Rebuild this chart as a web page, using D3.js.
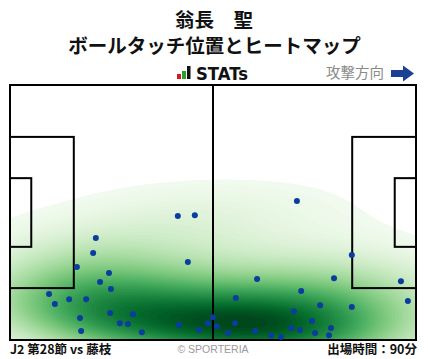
<!DOCTYPE html>
<html><head><meta charset="utf-8">
<script src="https://cdn.jsdelivr.net/npm/d3@7"></script>
<style>
body{margin:0;background:#fff;}
svg{display:block;font-family:"Noto Sans CJK JP","Noto Sans",sans-serif;}
</style>
</head><body>
<svg id="chart" width="428" height="359"></svg>
<script>
// Ball touch positions (metres on a 105 x 68 pitch, attacking to the right)
const touchX = [22.2,21.5,17.3,25.6,23.3,26.1,10.1,15.3,19.7,11.6,25.9,31.8,18.1,28.4,30.5,18.4,34.1,
                43.4,47.8,46.0,43.7,48.9,51.2,52.5,53.5,56.4,58.2,58.4,63.9,74.2,75.3,80.2,73.4,78.1,
                72.7,75.0,63.4,67.5,70.1,78.9,82.5,83.0,83.8,88.4,88.4,101.1,102.9];
const touchY = [40.8,44.8,48.5,50.1,52.5,54.4,55.7,57.1,57.1,58.4,60.8,61.1,62.1,63.5,63.7,65.6,65.9,
                34.9,34.7,47.2,64.0,65.3,63.5,61.9,64.3,66.1,63.5,56.8,51.7,30.9,54.9,58.7,60.3,62.9,
                64.8,65.3,65.6,66.7,67.2,66.1,66.7,64.8,51.5,45.3,59.2,52.3,57.6];
const pitchLength = 105, pitchWidth = 68;
const titleLines = ["翁長\u3000聖", "ボールタッチ位置とヒートマップ"];
const footerLeft = "J2 第28節 vs 藤枝";
const footerRight = "出場時間：90分";
const credit = "© SPORTERIA";
const directionLabel = "攻撃方向";

const svg = d3.select("#chart");
const W = 428, H = 359;
const x = d3.scaleLinear().domain([0, pitchLength]).range([10, 416]);
const y = d3.scaleLinear().domain([0, pitchWidth]).range([85, 340]);
const pts = touchX.map((v, i) => ({x: v, y: touchY[i]}));

// Header
svg.append("text").attr("x", W/2).attr("y", 26.5).attr("text-anchor", "middle")
  .attr("font-size", 19.5).attr("font-weight", 700).attr("fill", "#111").text(titleLines[0]);
svg.append("text").attr("x", W/2 + 0.5).attr("y", 53).attr("text-anchor", "middle")
  .attr("font-size", 19.5).attr("font-weight", 700).attr("fill", "#111").text(titleLines[1]);

// STATs logo
const logo = svg.append("g");
logo.append("rect").attr("x", 177).attr("y", 74).attr("width", 4).attr("height", 5).attr("fill", "#d7191c");
logo.append("rect").attr("x", 182).attr("y", 71).attr("width", 4).attr("height", 8).attr("fill", "#2ca02c");
logo.append("rect").attr("x", 187).attr("y", 66).attr("width", 3.5).attr("height", 13).attr("fill", "#111");
logo.append("text").attr("x", 196).attr("y", 79.5).attr("font-family", "DejaVu Sans")
  .attr("font-weight", 700).attr("font-size", 17.5).attr("textLength", 52)
  .attr("lengthAdjust", "spacingAndGlyphs").attr("fill", "#111").text("STATs");

// Attack direction
svg.append("text").attr("x", 384).attr("y", 78).attr("text-anchor", "end")
  .attr("font-size", 14.5).attr("fill", "#8a8a8a").text(directionLabel);
svg.append("path").attr("d", "M391,70 H403 V65.5 L414,73.5 L403,81.5 V77 H391 Z").attr("fill", "#1d3f94");

// Heatmap: Gaussian KDE (Scott bandwidth, full covariance) with iso-proportion levels
const fw = x(pitchLength) - x(0), fh = y(pitchWidth) - y(0);
svg.append("clipPath").attr("id", "fieldClip").append("rect")
  .attr("x", x(0)).attr("y", y(0)).attr("width", fw).attr("height", fh);
const P = pts.map(d => [x(d.x), y(d.y)]);
const n = P.length;
const mx = d3.mean(P, p => p[0]), my = d3.mean(P, p => p[1]);
let sxx = 0, syy = 0, sxy = 0;
P.forEach(([a, b]) => { sxx += (a-mx)**2; syy += (b-my)**2; sxy += (a-mx)*(b-my); });
sxx /= n-1; syy /= n-1; sxy /= n-1;
const bwAdjust = 1.45;
const fct = Math.pow(n, -1/6) * bwAdjust;
const cxx = sxx*fct*fct, cyy = syy*fct*fct, cxy = sxy*fct*fct;
const det = cxx*cyy - cxy*cxy;
const ixx = cyy/det, iyy = cxx/det, ixy = -cxy/det;
const bwx = Math.sqrt(cxx), bwy = Math.sqrt(cyy);
const gx0 = d3.min(P, p => p[0]) - 3*bwx, gx1 = d3.max(P, p => p[0]) + 3*bwx;
const gy0 = d3.min(P, p => p[1]) - 3*bwy, gy1 = d3.max(P, p => p[1]) + 3*bwy;
const cs = 2;
const gw = Math.ceil((gx1-gx0)/cs), gh = Math.ceil((gy1-gy0)/cs);
const grid = new Float64Array(gw*gh);
for (let j = 0; j < gh; j++) {
  const py = gy0 + j*cs;
  for (let i = 0; i < gw; i++) {
    const px = gx0 + i*cs;
    let s = 0;
    for (let k = 0; k < n; k++) {
      const dx = px - P[k][0], dy = py - P[k][1];
      s += Math.exp(-0.5*(dx*dx*ixx + 2*dx*dy*ixy + dy*dy*iyy));
    }
    grid[j*gw + i] = s;
  }
}
const sorted = Array.from(grid).sort((a, b) => a - b);
const cum = d3.cumsum(sorted); const tot = cum[cum.length-1];
const nLevels = 60, thresh = 0.05;
const levels = d3.range(nLevels).map(i => {
  const q = thresh + (1 - thresh) * i / (nLevels - 1);
  const idx = d3.bisectLeft(cum, q * tot);
  return sorted[Math.min(idx, sorted.length - 1)];
});
const lvMin = levels[0], lvMax = levels[levels.length-1];
const bands = d3.contours().size([gw, gh]).thresholds(levels.slice(0, -1))(grid);
bands.forEach((c, k) => { c.mid = (levels[k] + levels[k+1]) / 2; });
const heatColor = v => d3.interpolateGreens(0.03 + 0.97 * (v - lvMin) / (lvMax - lvMin));
svg.append("g").attr("clip-path", "url(#fieldClip)")
  .append("g").attr("transform", `translate(${gx0},${gy0}) scale(${cs})`)
  .selectAll("path").data(bands).join("path")
  .attr("d", d3.geoPath()).attr("fill", d => heatColor(d.mid)).attr("stroke", "none");

// Pitch lines
const lines = svg.append("g").attr("fill", "none").attr("stroke", "#000").attr("stroke-width", 2);
lines.append("rect").attr("x", x(0)).attr("y", y(0)).attr("width", fw).attr("height", fh);
lines.append("line").attr("x1", x(52.5)).attr("x2", x(52.5)).attr("y1", y(0)).attr("y2", y(68));
const boxes = [[0,16.5,20.16],[0,5.5,9.16],[105-16.5,105,20.16],[105-5.5,105,9.16]];
boxes.forEach(([a,b,hw]) => {
  lines.append("rect").attr("x", x(a)).attr("y", y(34-hw))
    .attr("width", x(b)-x(a)).attr("height", y(34+hw)-y(34-hw));
});

// Touch points
svg.append("g").selectAll("circle").data(pts).join("circle")
  .attr("cx", d => x(d.x)).attr("cy", d => y(d.y)).attr("r", 3)
  .attr("fill", "#0a3d9e");

// Footer
svg.append("text").attr("x", 10).attr("y", 354).attr("font-size", 12.5).attr("font-weight", 700)
  .attr("fill", "#111").text(footerLeft);
svg.append("text").attr("x", 213).attr("y", 353).attr("text-anchor", "middle").attr("font-size", 10.5)
  .attr("font-family", "Liberation Sans, Arial, sans-serif").attr("fill", "#9a9a9a").text(credit);
svg.append("text").attr("x", 417).attr("y", 354).attr("text-anchor", "end").attr("font-size", 12.5)
  .attr("font-weight", 700).attr("fill", "#111").text(footerRight);
</script>
</body></html>
